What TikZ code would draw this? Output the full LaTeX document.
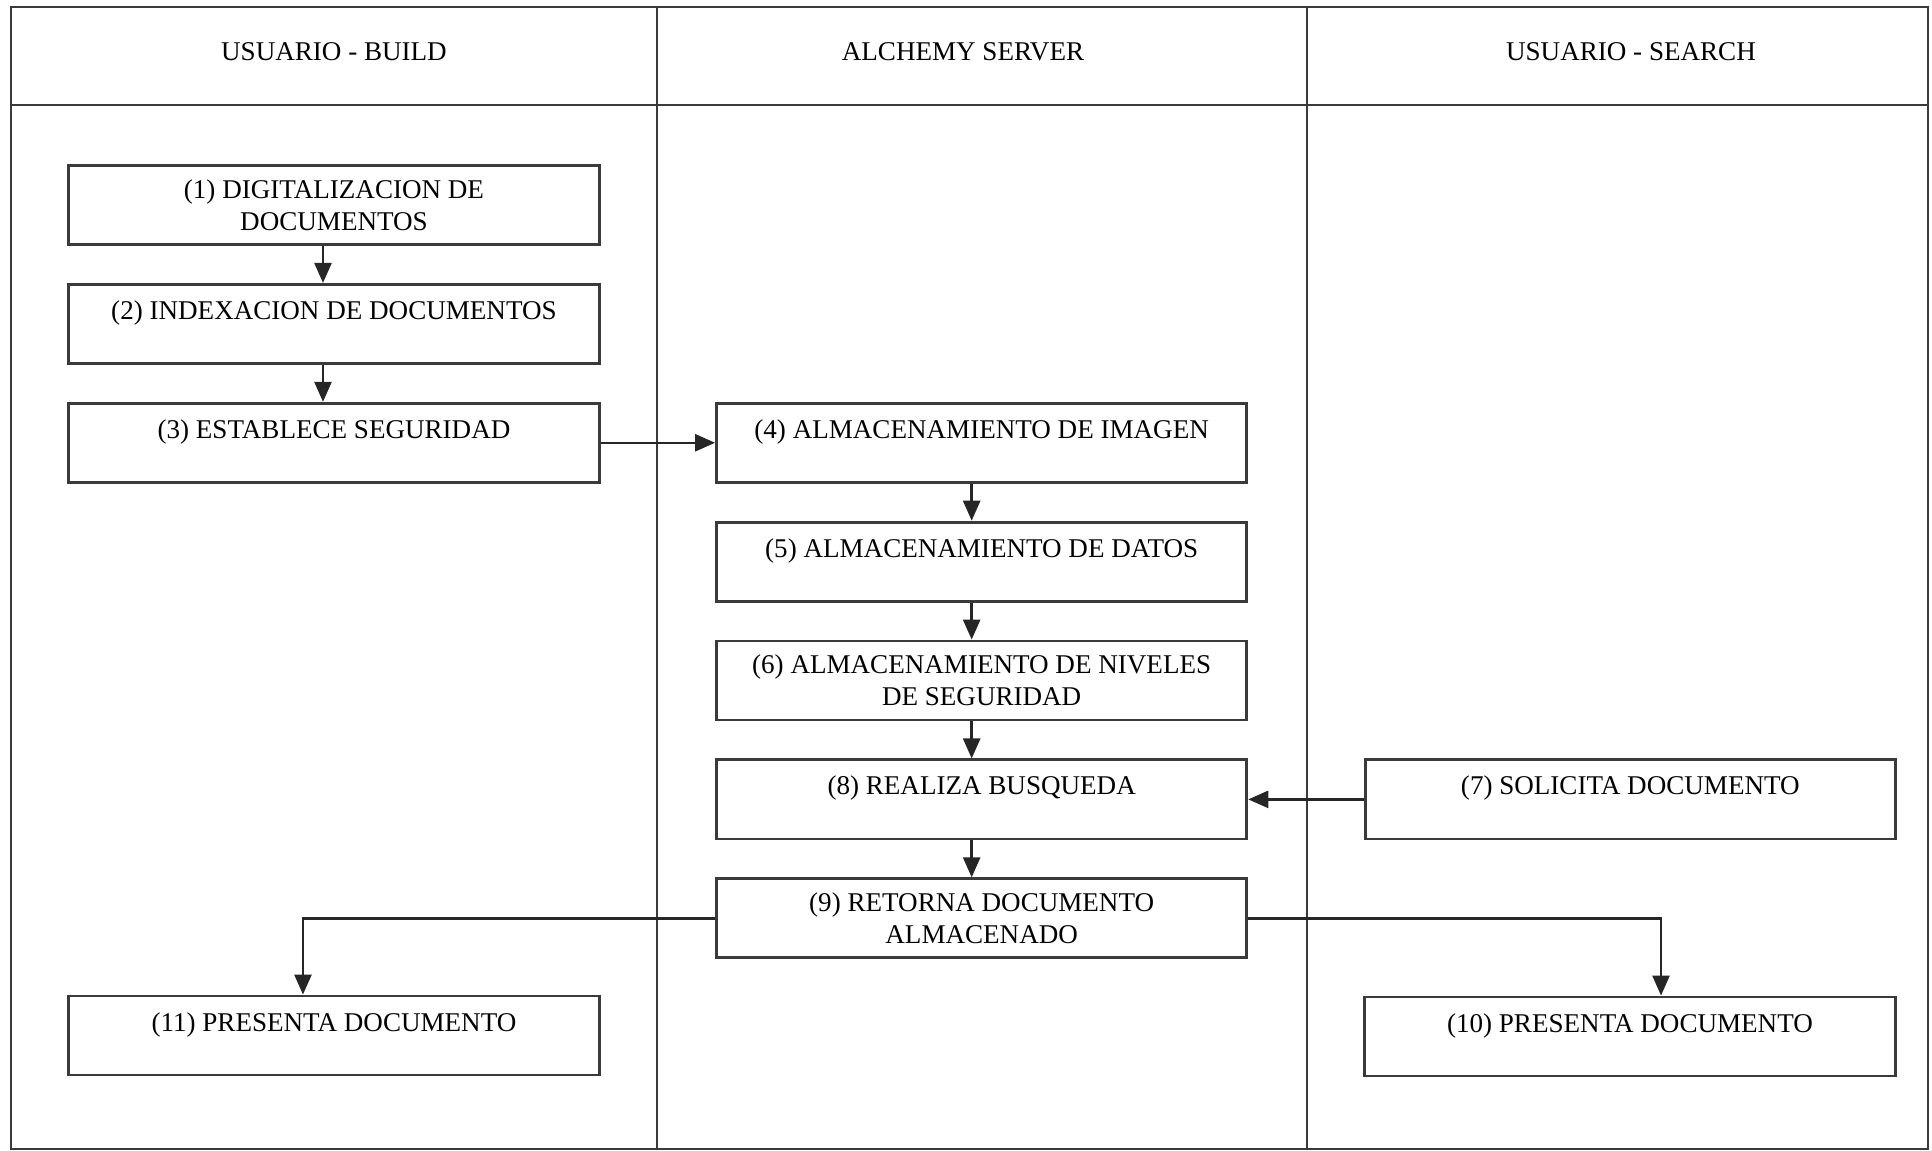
\documentclass[tikz,border=0pt]{standalone}
\usepackage{fontspec}
\setmainfont{Liberation Serif}
\usetikzlibrary{positioning,arrows.meta}
\definecolor{frame-grey}{HTML}{3a3a3a}
\newcommand{\padline}{\\[-0.14cm]\strut}

\begin{document}
\begin{tikzpicture}[
    x=0.01cm, y=-0.01cm,
    font=\fontsize{7.7}{9.1}\selectfont,
    node distance=0.37cm,
    lane/.style={ draw=frame-grey, line width=0.6pt, },
    task/.style={
        draw=frame-grey, line width=0.8pt,
        minimum width=5.3cm, minimum height=0.79cm,
        inner sep=0pt, align=center,
    },
    flow/.style={
        draw=black!85, line width=0.7pt,
        -{Triangle[length=0.2cm,width=0.17cm]},
    },
]
\useasboundingbox (0,0) rectangle (1932,1151);

\draw[lane] (11,7) rectangle (1928,1149);
\draw[lane] (11,105) -- (1928,105);
\draw[lane] (657,7) -- (657,1149);
\draw[lane] (1307,7) -- (1307,1149);

\node (hbuild) at (334,52) {USUARIO - BUILD};
\node (hserver) at (963,52) {ALCHEMY SERVER};
\node (hsearch) at (1631,52) {USUARIO - SEARCH};

\node[task] (n1) at (334,205) {(1) DIGITALIZACION DE\\DOCUMENTOS};
\node[task, below=of n1] (n2) {(2) INDEXACION DE DOCUMENTOS\padline};
\node[task, below=of n2] (n3) {(3) ESTABLECE SEGURIDAD\padline};
\node[task, right=1.145cm of n3] (n4) {(4) ALMACENAMIENTO DE IMAGEN\padline};
\node[task, below=of n4] (n5) {(5) ALMACENAMIENTO DE DATOS\padline};
\node[task, below=of n5] (n6) {(6) ALMACENAMIENTO DE NIVELES\\DE SEGURIDAD};
\node[task, below=of n6] (n8) {(8) REALIZA BUSQUEDA\padline};
\node[task, below=of n8] (n9) {(9) RETORNA DOCUMENTO\\ALMACENADO};
\node[task, right=1.155cm of n8] (n7) {(7) SOLICITA DOCUMENTO\padline};
\node[task] (n10) at (1630,1036.5) {(10) PRESENTA DOCUMENTO\padline};
\node[task] (n11) at (334,1035.5) {(11) PRESENTA DOCUMENTO\padline};

\foreach \a/\b in {n1/n2,n2/n3}
    \draw[flow] ([xshift=-0.11cm]\a.south) -- ([xshift=-0.11cm]\b.north);
\foreach \a/\b in {n4/n5,n5/n6,n6/n8,n8/n9}
    \draw[flow] ([xshift=-0.1cm]\a.south) -- ([xshift=-0.1cm]\b.north);
\draw[flow] (n3) -- (n4);
\draw[flow] (n7) -- (n8);
\draw[flow] (n9.west) -| ([xshift=-0.31cm]n11.north);
\draw[flow] (n9.east) -| ([xshift=0.31cm]n10.north);
\end{tikzpicture}
\end{document}
